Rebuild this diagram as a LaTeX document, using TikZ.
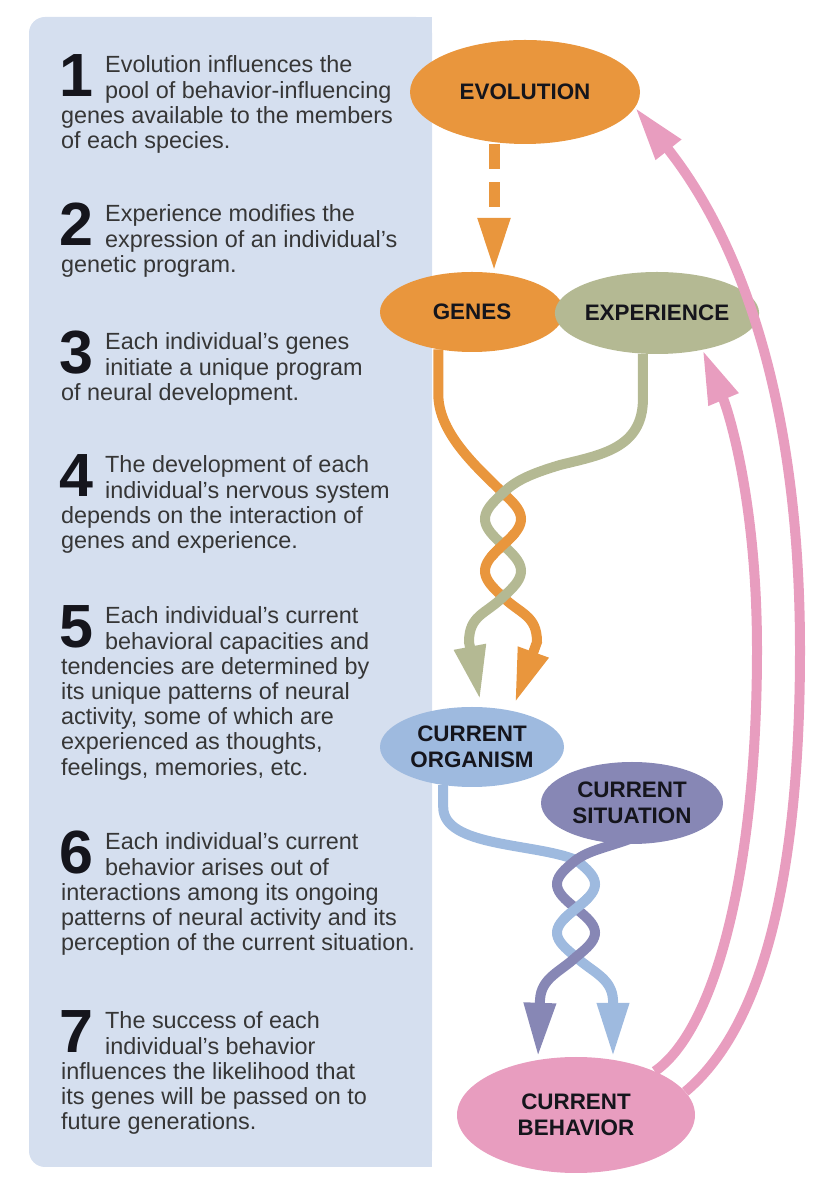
\documentclass[tikz,border=0pt]{standalone}
\usepackage{fontspec}
\setmainfont{Liberation Sans}
\usepackage{tikz}
\usetikzlibrary{arrows.meta,calc,positioning,shapes.geometric}
\definecolor{Panel}{HTML}{D5DFEF}
\definecolor{Orange}{HTML}{E9963D}
\definecolor{Sage}{HTML}{B4B993}
\definecolor{Sky}{HTML}{9EBADF}
\definecolor{Slate}{HTML}{8787B5}
\definecolor{Pink}{HTML}{E89DBF}
\definecolor{Ink}{HTML}{15151C}
\definecolor{Muted}{HTML}{363636}

\begin{document}
\begin{tikzpicture}[x=1pt,y=1pt,
    oval/.style={ellipse,inner sep=0pt,align=center,text=Ink,
      font=\fontsize{22.4}{26.5}\selectfont\bfseries},
    num/.style={anchor=base west,inner sep=0pt,text=Ink,
      font=\fontsize{61}{61}\selectfont\bfseries},
    para/.style={anchor=base west,inner sep=0pt,align=left,text=Muted,
      font=\fontsize{23.4}{25.2}\selectfont},
    strand/.style={line width=10pt},
    headed/.style={-{Triangle[length=54pt,width=30pt]}}]
  \useasboundingbox (0,0) rectangle (834,1200);
  % left panel (text nodes sit on the baseline of their last line)
  \fill[Panel,rounded corners=16pt] (29,33) rectangle (432,1183);
  \fill[Panel] (300,33) rectangle (432,1183);

  \node[num] (n1) at (59,1103) {1};
  \node[para] (t1a) at (105,1101.8) {Evolution influences the\\pool of behavior-influencing};
  \node[para] (t1b) at (61,1051.4) {genes available to the members\\of each species.};
  \node[num] (n2) at (59,954) {2};
  \node[para] (t2a) at (105,952.8) {Experience modifies the\\expression of an individual’s};
  \node[para] (t2b) at (61,927.6) {genetic program.};
  \node[num] (n3) at (59,826) {3};
  \node[para] (t3a) at (105,824.8) {Each individual’s genes\\initiate a unique program};
  \node[para] (t3b) at (61,799.6) {of neural development.};
  \node[num] (n4) at (59,703) {4};
  \node[para] (t4a) at (105,701.8) {The development of each\\individual’s nervous system};
  \node[para] (t4b) at (61,651.4) {depends on the interaction of\\genes and experience.};
  \node[num] (n5) at (59,552) {5};
  \node[para] (t5a) at (105,550.8) {Each individual’s current\\behavioral capacities and};
  \node[para] (t5b) at (61,424.8) {tendencies are determined by\\its unique patterns of neural\\
    activity, some of which are\\experienced as thoughts,\\feelings, memories, etc.};
  \node[num] (n6) at (59,326) {6};
  \node[para] (t6a) at (105,324.8) {Each individual’s current\\behavior arises out of};
  \node[para] (t6b) at (61,249.2) {interactions among its ongoing\\patterns of neural activity and its\\
    perception of the current situation.};
  \node[num] (n7) at (59,147) {7};
  \node[para] (t7a) at (105,145.8) {The success of each\\individual’s behavior};
  \node[para] (t7b) at (61,70.2) {influences the likelihood that\\its genes will be passed on to\\
    future generations.};

  % ovals
  \node[oval,fill=Orange,minimum width=230pt,minimum height=104pt] (evo) at (525,1108) {EVOLUTION};
  \node[oval,fill=Orange,minimum width=184pt,minimum height=80pt] (genes) at (472,888) {GENES};
  \node[oval,fill=Sage,minimum width=182pt,minimum height=82pt] (exper) at (657,887) {EXPERIENCE};
  \node[oval,fill=Sky,minimum width=184pt,minimum height=80pt] (org) at (472,453) {CURRENT\\ORGANISM};
  \node[oval,fill=Slate,minimum width=182pt,minimum height=82pt] (sit) at (632,397) {CURRENT\\SITUATION};
  \node[oval,fill=Pink,minimum width=238pt,minimum height=116pt] (beh) at (576,85) {CURRENT\\BEHAVIOR};

  \draw[Orange,line width=11pt,dash pattern=on 25pt off 13pt,headed]
    ([xshift=-31pt]evo.south) -- ([xshift=22pt]genes.north);

  % genes / experience twist
  \draw[strand,Orange,headed] (genes.228) -- ++(0,-45) .. controls ++(0,-40) and (480,730) .. (503,707)
    -- plot[domain=707:603,samples=41,variable=\t] ({503+18*sin((707-\t)/52*180)},\t)
    .. controls (520,586) and (537,585) .. (537,558) -- ([shift={(43pt,4pt)}]org.north);
  \draw[strand,Sage,headed] (exper.251) -- ++(0,-45) .. controls ++(0,-50) and (600,745) .. (560,735)
    .. controls (530,726) and (515,719) .. (503,707)
    -- plot[domain=707:603,samples=41,variable=\t] ({503-18*sin((707-\t)/52*180)},\t)
    .. controls (486,586) and (469,585) .. (469,558) -- ([shift={(8pt,7pt)}]org.north);
  \draw[strand,Orange] plot[domain=667:643,samples=9,variable=\t] ({503+18*sin((707-\t)/52*180)},\t);

  % organism / situation twist
  \draw[strand,Sky,headed] (org.233) -- ++(0,-22) .. controls ++(0,-40) and (535,357) .. (576,340)
    -- plot[domain=340:243,samples=41,variable=\t] ({576+19*sin((340-\t)/48.5*180)},\t)
    .. controls (592,228) and (612,222) .. (613,200) -- ([xshift=37pt]beh.north);
  \draw[strand,Slate,headed] ([yshift=6pt]sit.south) .. controls (605,352) and (590,350) .. (576,340)
    -- plot[domain=340:243,samples=41,variable=\t] ({576-19*sin((340-\t)/48.5*180)},\t)
    .. controls (560,228) and (541,222) .. (540,200) -- ([xshift=-38pt]beh.north);
  \draw[strand,Sky] plot[domain=303:280,samples=9,variable=\t] ({576+19*sin((340-\t)/48.5*180)},\t);

  % feedback
  \draw[strand,Pink,headed] (beh.12) .. controls (765,175) and (800,330) .. (800,550)
    .. controls (800,800) and (740,960) .. (evo.-8);
  \draw[strand,Pink,headed] (beh.29) .. controls (715,170) and (757,330) .. (757,550)
    .. controls (757,700) and (728,790) .. (exper.-39);
\end{tikzpicture}
\end{document}
